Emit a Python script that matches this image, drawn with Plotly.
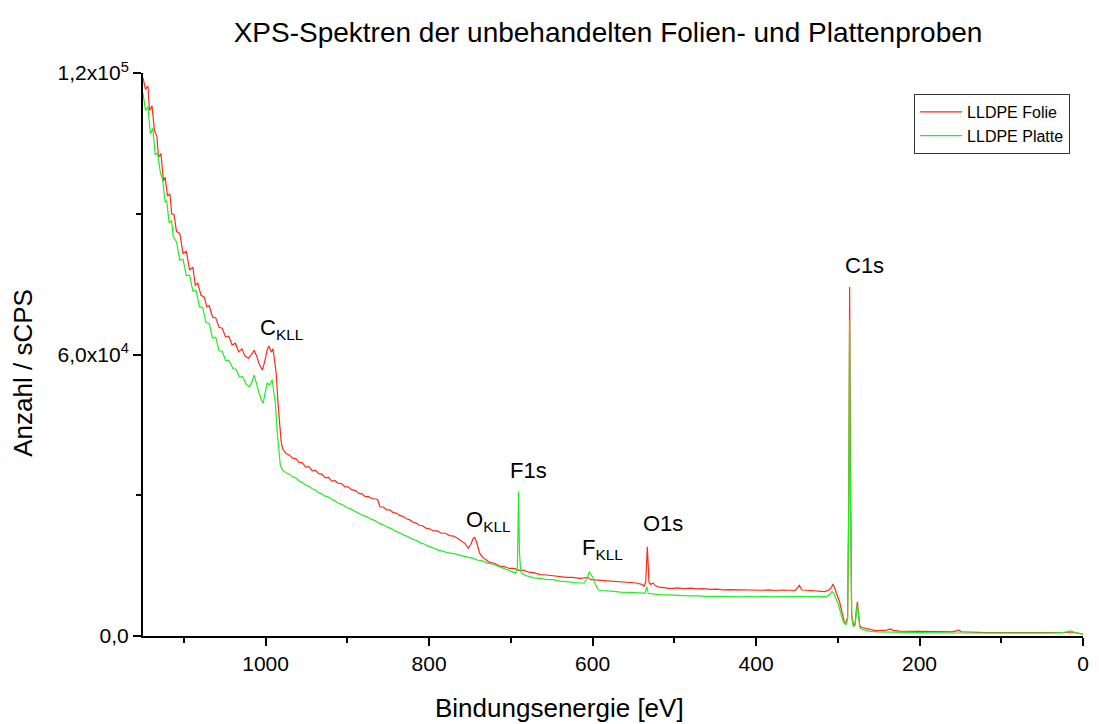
import plotly.graph_objects as go

# ---- data ----
energy_folie = [1150, 1147, 1144, 1142, 1139, 1136, 1133, 1131, 1128, 1125, 1123, 1120, 1117, 1115, 1112, 1109,
                1105, 1101, 1097, 1093, 1089, 1086, 1083, 1079, 1075, 1072, 1069, 1065, 1061, 1057, 1053, 1049,
                1045, 1041, 1037, 1033, 1029, 1025, 1021, 1018, 1014, 1011, 1008, 1004, 1001, 998, 996, 993,
                991, 989, 987, 985, 983, 981, 979, 975, 971, 967, 963,
                959, 955, 951, 947, 943, 939, 935, 931, 927, 923, 919, 915, 911, 907, 903, 899, 895, 890, 886,
                882, 878, 874, 870, 866, 863, 860, 856, 852, 848, 844, 840, 836, 832, 828, 824, 820, 816, 812,
                808, 804, 800, 795, 790, 785, 780, 775, 770, 765, 760, 756, 752, 749, 746, 744, 742, 740, 738,
                734, 730, 726, 720, 714, 708, 702, 696, 690, 684,
                678, 672, 664, 656, 648, 640, 632, 624, 616, 610, 606, 602, 594, 586, 578, 570, 562, 554, 546,
                540, 537, 535, 533, 531, 529, 526, 523, 518, 512, 504, 496, 488, 480, 472, 464, 456, 448, 440,
                432, 424, 416, 408, 400, 392, 384, 376, 368, 360, 352, 347, 344, 338, 330, 322, 316, 311, 308,
                306, 304, 301, 298, 295, 292, 290, 288, 286.5, 285.5, 284.5, 283, 281, 279, 277, 276, 275, 273,
                270, 266, 260, 254, 246, 240, 236, 232, 225, 214, 204, 193, 180, 170, 160, 155, 152, 149, 140,
                132, 120, 110, 100, 90, 80, 70, 60, 50, 40, 30, 20, 15, 10, 5, 0]
counts_folie = [119000, 116500, 117200, 112000, 113000, 107800, 106500, 102000, 102800, 97000, 97800, 93800, 94200,
                90000, 89800, 86200, 85800, 81500, 82000, 78000, 78600, 74800, 75200, 72600, 72200, 70200, 70400,
                68000, 67800, 65800, 65600, 63700, 63900, 62000, 62400, 60600, 61200, 59600, 59200, 59800, 60900,
                59700, 58000, 56700, 58600, 61000, 61800, 60500, 61200, 59000, 56000, 50000, 45000, 41500, 39800,
                38900, 38600, 37900, 37800,
                37000, 36900, 36000, 36100, 35200, 35300, 34600, 34500, 33700, 33800, 33000, 33100, 32500, 32500,
                31800, 31800, 31200, 31000, 30400, 30300, 29700, 29700, 29300, 29200, 29100, 27500, 27500, 26900,
                26900, 26300, 26200, 25700, 25500, 25000, 24800, 24300, 24100, 23600, 23500, 23000, 22900, 22400,
                22400, 21900, 21900, 21400, 21300, 20800, 20200, 19700, 18700, 19500, 20800, 21000, 20000, 18500,
                17600, 16700, 16200, 15700, 15500, 14900, 14800, 14400, 14400, 14000, 14000,
                13600, 13500, 13100, 13000, 12800, 12700, 12500, 12500, 12300, 12400, 12500, 12000, 11900, 11700,
                11700, 11550, 11500, 11300, 11300, 11000, 10600, 11500, 19000, 11500, 11000, 11300, 10700, 10400,
                10300, 10100, 10250, 10100, 10200, 10050, 10100, 9950, 10000, 9850, 9900, 9850, 9850, 9750, 9850,
                9750, 9850, 9700, 9800, 9700, 9700, 10800, 9800, 9750, 9600, 9550, 9450, 9800, 10300, 11000, 10400,
                8800, 7400, 5200, 3000, 2700, 4000, 30000, 74400, 35000, 4500, 2400, 2500, 6000, 7300, 5500, 2100,
                1800, 1600, 1300, 1150, 1200, 1250, 1500, 1200, 1050, 1000, 950, 900, 880, 850, 900, 1100, 1250,
                900, 800, 750, 720, 700, 680, 660, 650, 640, 620, 650, 680, 700, 760, 850, 700, 550, 400]

energy_platte = [1150, 1147, 1144, 1141, 1138, 1135, 1132, 1129, 1126, 1123, 1121, 1118, 1115, 1113, 1109, 1105,
                 1101, 1097, 1093, 1089, 1085, 1081, 1077, 1073, 1069, 1065, 1061, 1057, 1053, 1049, 1045, 1040,
                 1036, 1032, 1028, 1024, 1020, 1017, 1014, 1011, 1008, 1005, 1003, 1001, 998, 995, 992, 990, 988,
                 986, 984, 982, 979, 975, 971, 967, 963,
                 959, 955, 951, 947, 943, 939, 935, 931, 927, 923, 919, 915, 911, 906, 901, 896, 891, 886, 881,
                 876, 871, 866, 861, 856, 851, 846, 841, 836, 831, 826, 821, 816, 811, 806, 801, 795, 789, 783,
                 777, 771, 765, 759, 753, 747, 741, 735, 728, 722, 716, 710, 704, 699,
                 694, 692, 691, 690.5, 689.5, 688, 686, 682, 678, 672, 664, 656, 648, 640, 632,
                 624, 616, 610, 606, 604, 602, 599, 596, 593, 588, 580, 574, 566, 558, 550, 542, 536, 533.5, 532,
                 525, 517, 508, 500, 490, 480, 470, 460, 450, 440, 430, 420, 410, 400, 390, 380, 370, 360, 350,
                 340, 330, 320, 314, 310, 307, 305, 302, 299, 296, 293, 290, 288, 286.5, 285.5, 284.5, 283, 281,
                 279, 277, 276, 275, 273, 270, 266, 260, 250, 240, 230, 215, 200, 180, 160, 140, 120, 100, 80, 60,
                 40, 25, 15, 10, 5, 0]
counts_platte = [115700, 112000, 112800, 107000, 108200, 102500, 103000, 99000, 97200, 92500, 92800, 88000, 88600,
                 85100, 84000, 80100, 80300, 76800, 76900, 73500, 73600, 70200, 70000, 66800, 66600, 63500, 63700,
                 60800, 60700, 58700, 58800, 57000, 56800, 55200, 55300, 53700, 53100, 54000, 55600, 53500, 51800,
                 50200, 49600, 51500, 53900, 53500, 54600, 52000, 49600, 44000, 39500, 36300, 35300, 34800, 34500,
                 33900, 33700,
                 33000, 32700, 32200, 31900, 31400, 31100, 30500, 30300, 29800, 29600, 29100, 28800, 28300, 28000,
                 27400, 27100, 26600, 26200, 25700, 25400, 24900, 24600, 24000, 23700, 23200, 22900, 22300, 22000,
                 21500, 21200, 20700, 20400, 19900, 19600, 19100, 18800, 18300, 18100, 17700, 17600, 17300, 17100,
                 16800, 16600, 16200, 16000, 15500, 15300, 14900, 14600, 14100, 13900,
                 13400, 14500, 22000, 30750, 18000, 13800, 13300, 12900, 12700, 12400, 12300, 12000, 12000, 11700,
                 11600, 11400, 11300, 11300, 12500, 13700, 13000, 12300, 10800, 9800, 9700, 9500, 9500, 9350, 9350,
                 9200, 9200, 9100, 10500, 9100,
                 8950, 8750, 8750, 8650, 8650, 8550, 8550, 8400, 8450, 8380, 8450, 8350, 8420, 8350, 8450, 8350,
                 8420, 8400, 8460, 8400, 8440, 8380, 8400, 8800, 9450, 9200, 8000, 6600, 4600, 3000, 2400, 3500,
                 28000, 67300, 30000, 4000, 2100, 2200, 5500, 6600, 5000, 1800, 1400, 1200, 1000, 900, 850, 800,
                 720, 680, 650, 640, 620, 610, 600, 600, 610, 640, 700, 1070, 800, 550, 400]

y_tick_vals = [0, 60000, 120000]
y_tick_text = ["0,0", "6,0x10<sup>4</sup>", "1,2x10<sup>5</sup>"]
y_minor_vals = [30000, 90000]

peak_labels = ["C<sub>KLL</sub>", "C1s", "F1s", "O<sub>KLL</sub>", "F<sub>KLL</sub>", "O1s"]
peak_label_x = [980, 267, 678, 727, 588, 514]
peak_label_y = [65500, 79000, 35200, 24600, 18600, 23900]

FONT = "Liberation Sans, Arial, sans-serif"

fig = go.Figure()
fig.add_trace(go.Scatter(x=energy_folie, y=counts_folie, mode="lines", name="LLDPE Folie",
                         line=dict(color="#ff2a1a", width=1.2)))
fig.add_trace(go.Scatter(x=energy_platte, y=counts_platte, mode="lines", name="LLDPE Platte",
                         line=dict(color="#22ee22", width=1.2)))

for t, xv, yv in zip(peak_labels, peak_label_x, peak_label_y):
    fig.add_annotation(x=xv, y=yv, xref="x", yref="y", text=t, showarrow=False,
                       font=dict(size=22, color="black", family=FONT))

# axis titles as annotations for exact placement
fig.add_annotation(x=(562 - 143) / 946, y=-(708 - 636) / 563, xref="paper", yref="paper",
                   text="Bindungsenergie [eV]", showarrow=False, xanchor="center", yanchor="middle",
                   font=dict(size=26, color="black", family=FONT))
fig.add_annotation(x=-(143 - 22) / 946, y=(636 - 373) / 563, xref="paper", yref="paper",
                   text="Anzahl / sCPS", showarrow=False, textangle=-90, xanchor="center", yanchor="middle",
                   font=dict(size=26, color="black", family=FONT))

fig.update_layout(
    width=1099, height=724,
    margin=dict(l=143, r=10, t=73, b=88),
    paper_bgcolor="white", plot_bgcolor="white",
    font=dict(family=FONT, color="black"),
    title=dict(text="XPS-Spektren der unbehandelten Folien- und Plattenproben",
               x=608 / 1099, xanchor="center", y=1 - 32 / 724, yanchor="middle",
               font=dict(size=28, color="black", family=FONT)),
    showlegend=True,
    legend=dict(x=(1076 - 143) / 946, y=(636 - 94) / 563, xanchor="right", yanchor="top",
                bordercolor="#333333", borderwidth=1, bgcolor="white",
                font=dict(size=16, color="black", family=FONT),
                tracegroupgap=0, itemwidth=42),
)

fig.update_xaxes(range=[1150, 0], showgrid=False, zeroline=False,
                 showline=True, linecolor="black", linewidth=2,
                 ticks="outside", ticklen=8, tickwidth=2, tickcolor="black",
                 tickmode="linear", tick0=0, dtick=200,
                 tickfont=dict(size=21, color="black", family=FONT),
                 minor=dict(ticks="outside", ticklen=5, tickwidth=2, tickcolor="black", dtick=100, tick0=0))
fig.update_yaxes(range=[0, 120000], showgrid=False, zeroline=False,
                 showline=True, linecolor="black", linewidth=2,
                 ticks="outside", ticklen=8, tickwidth=2, tickcolor="black",
                 tickmode="array", tickvals=y_tick_vals, ticktext=y_tick_text,
                 tickfont=dict(size=21, color="black", family=FONT),
                 minor=dict(ticks="outside", ticklen=5, tickwidth=2, tickcolor="black",
                            tickmode="array", tickvals=y_minor_vals))

fig.write_html("out.html")
